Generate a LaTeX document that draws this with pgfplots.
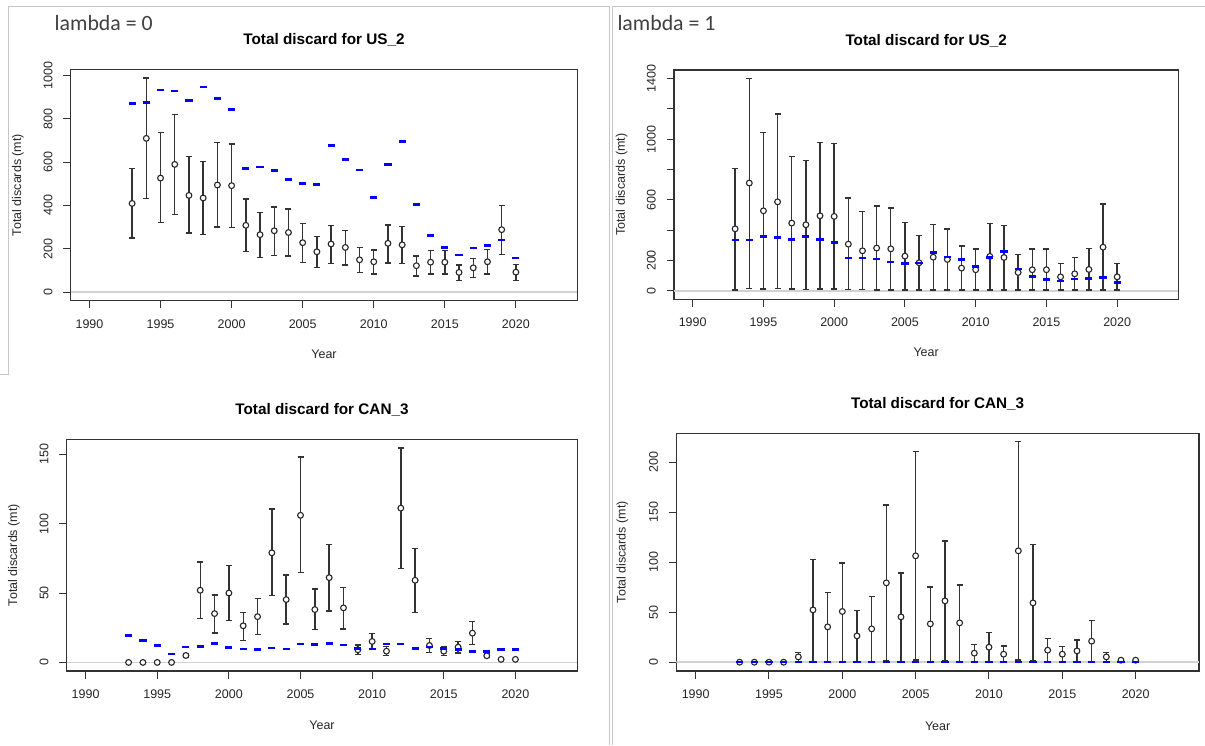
\documentclass[border=0pt]{standalone}
\usepackage{pgfplots}
\pgfplotsset{compat=1.18}
\usepackage{pgfplotstable}
\usetikzlibrary{plotmarks}
\usepackage{fontspec}
\setmainfont{Liberation Sans}
\newfontfamily\calib{Carlito}

\pgfplotstableread{
year val lo up blue
1993 409 249 569 869
1994 709 431 988 875
1995 526 322 735 932
1996 589 358 820 928
1997 446 272 625 883
1998 434 265 603 946
1999 494 300 689 894
2000 491 297 683 843
2001 308 188 429 569
2002 265 160 368 577
2003 283 169 392 562
2004 275 166 383 520
2005 228 138 315 500
2006 186 112 258 495
2007 222 132 306 677
2008 206 125 285 611
2009 149 89 206 563
2010 140 83 194 437
2011 225 135 309 589
2012 218 132 302 695
2013 122 74 166 403
2014 138 83 192 260
2015 138 83 192 206
2016 91 55 125 171
2017 112 66 155 203
2018 140 83 197 215
2019 288 175 400 240
2020 92 55 126 157
}\usA

\pgfplotstableread{
year val lo up blue
1993 409 6 807 334
1994 711 15 1401 334
1995 528 11 1043 359
1996 587 13 1166 352
1997 447 11 887 339
1998 436 9 858 359
1999 495 11 979 337
2000 491 11 972 319
2001 308 7 612 216
2002 264 7 524 216
2003 282 6 559 209
2004 277 6 546 191
2005 229 6 453 180
2006 185 6 367 183
2007 222 6 436 253
2008 207 6 407 224
2009 150 6 295 207
2010 139 6 275 161
2011 227 6 442 220
2012 220 6 429 260
2013 121 6 240 145
2014 139 6 275 95
2015 139 6 275 73
2016 92 6 178 64
2017 112 6 222 77
2018 141 6 279 81
2019 288 6 572 86
2020 92 6 180 55
}\usB

\pgfplotstableread{
year val lo up blue
1993 0 0 0 19.6
1994 0 0 0 15.6
1995 0 0 0 12.2
1996 0 0 0 6.0
1997 5 3.5 6.5 11.0
1998 52 31.6 72.4 11.3
1999 35.2 21.1 48.6 13.7
2000 50 30.4 70 10.8
2001 26.4 16 36.2 9.8
2002 33 20.1 46 9.1
2003 79 48 110.5 10.3
2004 45.3 27.6 63 9.8
2005 106 64.7 148 13.2
2006 38.1 23.5 53 12.9
2007 61.1 37.1 85 13.7
2008 39.3 24 54.2 12.7
2009 9.1 5.7 12.5 10.0
2010 15.1 9.8 20.8 9.8
2011 8.1 5 11.3 13.2
2012 111.2 67.6 154.6 13.2
2013 59.2 36.2 82 10.0
2014 12.2 7.2 17 11.0
2015 8.1 5 11.3 10.0
2016 11 6.7 15.3 9.1
2017 21.1 12.7 29.5 7.9
2018 4.8 3.4 6.7 7.9
2019 2.2 2.2 2.2 9.3
2020 2.2 2.2 2.2 9.3
}\canA

\pgfplotstableread{
year val lo up blue
1993 0 0 0 0
1994 0 0 0 0
1995 0 0 0 0
1996 0 0 0 0
1997 5.3 0.2 10 0
1998 52.3 1 103 0
1999 35.3 0.7 69.7 0
2000 50.7 1 99.3 0
2001 26.3 0.5 51.7 0
2002 33.3 0.7 65.7 0
2003 79.3 1.6 157 0
2004 45.3 0.9 89.3 0
2005 106.3 2.1 210.3 0
2006 38.3 0.8 75.3 0
2007 61.3 1.2 121 0
2008 39.3 0.8 77.3 0
2009 9 0.2 18 0
2010 15 0.3 30 0
2011 8 0.2 16.3 0
2012 111.3 2.2 220.3 0
2013 59.3 1.2 117.3 0
2014 12 0.2 24 0
2015 8 0.2 16 0
2016 11.3 0.2 22.3 0
2017 21 0.4 42 0
2018 5.3 0.1 10 0
2019 2 2 2 0
2020 2 2 2 0
}\canB

\pgfplotsset{
  rpanel/.style={
    scale only axis, anchor=south west,
    xmin=1988.68, xmax=2024.32,
    xtick={1990,1995,...,2020},
    tick align=outside, major tick length=7.5pt,
    tick pos=left,
    axis line style={black!80, line width=1.2pt},
    tick style={black!80, line width=1pt},
    tick label style={font=\fontsize{12.5}{14}\selectfont, text=black!85},
    xticklabel style={anchor=center, yshift=-15.7pt},
    yticklabel style={xshift=-15.2pt, rotate=90, anchor=center},
    label style={font=\fontsize{12.5}{14}\selectfont, text=black!85},
    title style={font=\bfseries\fontsize{15.3}{18}\selectfont, anchor=center, yshift=0pt},
    xlabel={Year}, ylabel={Total discards (mt)},
    xlabel style={anchor=center},
    ylabel style={anchor=center},
    /pgf/number format/1000 sep={},
    /pgf/number format/assume math mode=true,
  },
  zeroline/.style={gray!35, line width=1.5pt, forget plot},
  ebars/.style={only marks, mark=none, forget plot,
    error bars/.cd, y dir=both, y explicit,
    error mark=|,
    error bar style={black!80, line width=1.4pt},
    error mark options={black!80, mark size=3pt, line width=1.3pt}},
  circ/.style={only marks, mark=*, mark size=2.9pt,
    mark options={fill=white, draw=black!85, line width=1.1pt}},
  bdash/.style={only marks, mark=-, mark size=3.6pt,
    mark options={draw=blue, line width=2.6pt}},
}

\begin{document}
\begin{tikzpicture}[x=1pt,y=1pt]
\useasboundingbox (0,0) rectangle (1205,745);
% screenshot frames
\draw[gray!45, line width=1pt] (0,370) -- (8.3,370) -- (8.3,738) -- (609.3,738) -- (609.3,0);
\draw[gray!45, line width=1pt] (612.5,0) -- (612.5,738) -- (1205,738);
\node[anchor=west, inner sep=0pt, text=black!75] at (54.5,722.3) {\calib\fontsize{21.8}{24}\selectfont lambda = 0};
\node[anchor=west, inner sep=0pt, text=black!75] at (617.3,722.3) {\calib\fontsize{21.8}{24}\selectfont lambda = 1};

% Panel 1
\begin{axis}[rpanel, at={(70.7pt,444.3pt)}, width=506.6pt, height=231.4pt,
  ymin=-39.5, ymax=1027.5, ytick={0,200,...,1000},
  title={Total discard for US\_2},
  title style={at={(axis description cs:0.5,1.0993)}},
  xlabel style={at={(axis description cs:0.5,-0.2303)}},
  ylabel style={at={(axis description cs:-0.1040,0.5)}}]
\addplot[zeroline] coordinates {(1988.68,0) (2024.32,0)};
\addplot[ebars] table[x=year, y=val, y error plus expr=\thisrow{up}-\thisrow{val}, y error minus expr=\thisrow{val}-\thisrow{lo}] {\usA};
\addplot[circ] table[x=year, y=val] {\usA};
\addplot[bdash] table[x=year, y=blue] {\usA};
\end{axis}

% Panel 2
\begin{axis}[rpanel, at={(674pt,445.7pt)}, width=504.3pt, height=229.3pt,
  ymin=-56, ymax=1457, ytick={0,200,...,1400},
  yticklabels={0,200,,600,,1000,,1400},
  title={Total discard for US\_2},
  title style={at={(axis description cs:0.5,1.1003)}},
  xlabel style={at={(axis description cs:0.5,-0.2329)}},
  ylabel style={at={(axis description cs:-0.1037,0.5)}}]
\addplot[zeroline] coordinates {(1988.68,0) (2024.32,0)};
\addplot[ebars] table[x=year, y=val, y error plus expr=\thisrow{up}-\thisrow{val}, y error minus expr=\thisrow{val}-\thisrow{lo}] {\usB};
\addplot[circ] table[x=year, y=val] {\usB};
\addplot[bdash] table[x=year, y=blue] {\usB};
\end{axis}

% Panel 3
\begin{axis}[rpanel, at={(66.7pt,74pt)}, width=510.6pt, height=231.7pt,
  ymin=-6.18, ymax=160.8, ytick={0,50,100,150},
  title={Total discard for CAN\_3},
  title style={at={(axis description cs:0.5,1.1006)}},
  xlabel style={at={(axis description cs:0.5,-0.2331)}},
  ylabel style={at={(axis description cs:-0.1032,0.5)}}]
\addplot[zeroline] coordinates {(1988.68,0) (2024.32,0)};
\addplot[skip coords between index={0}{4}, skip coords between index={26}{28}, ebars] table[x=year, y=val, y error plus expr=\thisrow{up}-\thisrow{val}, y error minus expr=\thisrow{val}-\thisrow{lo}] {\canA};
\addplot[circ] table[x=year, y=val] {\canA};
\addplot[bdash] table[x=year, y=blue] {\canA};
\end{axis}

% Panel 4
\begin{axis}[rpanel, at={(676.3pt,74pt)}, width=522.7pt, height=237.7pt,
  ymin=-8.8, ymax=228.8, ytick={0,50,...,200},
  title={Total discard for CAN\_3},
  title style={at={(axis description cs:0.5,1.0968)}},
  xlabel style={at={(axis description cs:0.5,-0.2343)}},
  ylabel style={at={(axis description cs:-0.1033,0.5)}}]
\addplot[zeroline] coordinates {(1988.68,0) (2024.32,0)};
\addplot[skip coords between index={0}{4}, skip coords between index={26}{28}, ebars] table[x=year, y=val, y error plus expr=\thisrow{up}-\thisrow{val}, y error minus expr=\thisrow{val}-\thisrow{lo}] {\canB};
\addplot[circ] table[x=year, y=val] {\canB};
\addplot[bdash] table[x=year, y=blue] {\canB};
\end{axis}
\end{tikzpicture}
\end{document}
